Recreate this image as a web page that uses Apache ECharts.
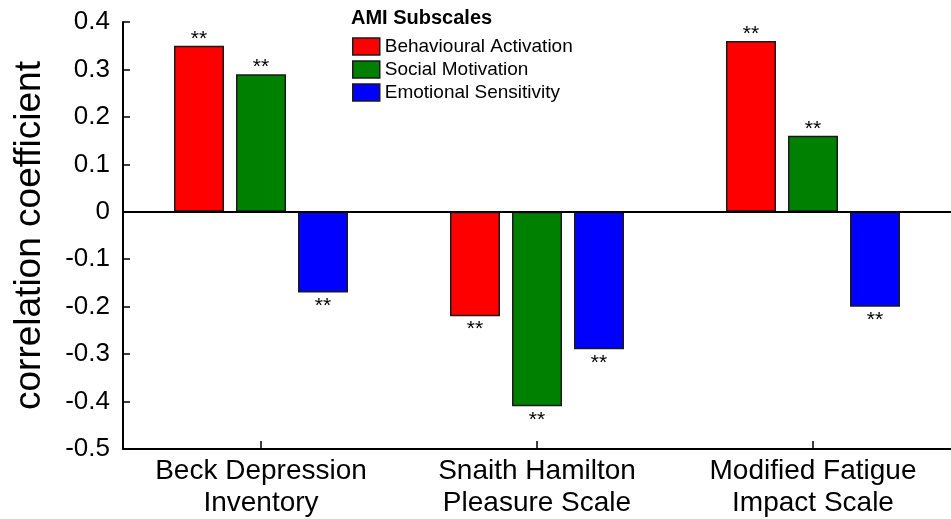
<!DOCTYPE html>
<html>
<head>
<meta charset="utf-8">
<script src="https://cdn.jsdelivr.net/npm/echarts@6/dist/echarts.min.js"></script>
<style>
html,body{margin:0;padding:0;background:#fff;}
#chart{width:951px;height:519px;}
</style>
</head>
<body>
<div id="chart"></div>
<script>
var categories = ['Beck Depression\nInventory', 'Snaith Hamilton\nPleasure Scale', 'Modified Fatigue\nImpact Scale'];
var seriesNames = ['Behavioural Activation', 'Social Motivation', 'Emotional Sensitivity'];
var behaviouralActivation = [0.35, -0.22, 0.36];
var socialMotivation = [0.29, -0.41, 0.16];
var emotionalSensitivity = [-0.17, -0.29, -0.20];
var sigBehavioural = ['**', '**', '**'];
var sigSocial = ['**', '**', '**'];
var sigEmotional = ['**', '**', '**'];
var colors = ['#ff0000', '#008000', '#0000ff'];
var yTicks = { min: -0.5, max: 0.4, interval: 0.1 };

var FONT = "'Liberation Sans', Arial, sans-serif";

function makeData(values, sigs) {
  return values.map(function (v, i) {
    return {
      value: v,
      label: {
        show: true,
        formatter: sigs[i],
        position: v < 0 ? 'bottom' : 'top',
        distance: v < 0 ? 3 : -4
      }
    };
  });
}

var valueSets = [behaviouralActivation, socialMotivation, emotionalSensitivity];
var sigSets = [sigBehavioural, sigSocial, sigEmotional];

var series = seriesNames.map(function (name, k) {
  var s = {
    name: name,
    type: 'bar',
    barWidth: 50,
    barGap: '24%',
    data: makeData(valueSets[k], sigSets[k]),
    itemStyle: { color: colors[k], borderColor: '#1a1a1a', borderWidth: 1.5 },
    label: { color: '#000', fontSize: 21, fontFamily: FONT },
    emphasis: { disabled: true },
    animation: false
  };
  if (k === 0) {
    s.markLine = {
      silent: true,
      symbol: 'none',
      label: { show: false },
      lineStyle: { color: '#000', width: 2, type: 'solid' },
      data: [{ yAxis: 0 }],
      animation: false
    };
  }
  return s;
});

var chart = echarts.init(document.getElementById('chart'), null, { renderer: 'canvas' });
chart.setOption({
  backgroundColor: '#ffffff',
  animation: false,
  title: {
    text: 'AMI Subscales',
    left: 351,
    top: 8,
    padding: 0,
    textStyle: { fontFamily: FONT, fontWeight: 'bold', fontSize: 20, color: '#000' }
  },
  legend: {
    orient: 'vertical',
    left: 352,
    top: 37,
    padding: 0,
    itemWidth: 27,
    itemHeight: 17,
    itemGap: 4,
    icon: 'rect',
    itemStyle: { borderColor: '#1a1a1a', borderWidth: 1.5 },
    textStyle: { fontFamily: FONT, fontSize: 19, color: '#000' },
    data: seriesNames,
    selectedMode: false
  },
  grid: { left: 123, right: 0, top: 22, bottom: 69, containLabel: false },
  xAxis: {
    type: 'category',
    data: categories,
    axisLine: { onZero: false, lineStyle: { color: '#000', width: 2 } },
    axisTick: { show: true, inside: true, length: 8, alignWithLabel: true, lineStyle: { color: '#000', width: 1.5 } },
    axisLabel: { color: '#000', fontSize: 28, fontFamily: FONT, lineHeight: 32, margin: 6, interval: 0 },
    splitLine: { show: false }
  },
  yAxis: {
    type: 'value',
    min: yTicks.min,
    max: yTicks.max,
    interval: yTicks.interval,
    name: 'correlation coefficient',
    nameLocation: 'middle',
    nameGap: 75,
    nameTextStyle: { fontFamily: FONT, fontSize: 37, color: '#000' },
    axisLine: { show: true, lineStyle: { color: '#000', width: 2 } },
    axisTick: { show: true, inside: true, length: 7, lineStyle: { color: '#000', width: 1.5 } },
    axisLabel: {
      color: '#000', fontSize: 26, fontFamily: FONT, margin: 13,
      formatter: function (v) { var r = Math.round(v * 10) / 10; return r === 0 ? '0' : r.toFixed(1); }
    },
    splitLine: { show: false }
  },
  series: series
});
</script>
</body>
</html>
